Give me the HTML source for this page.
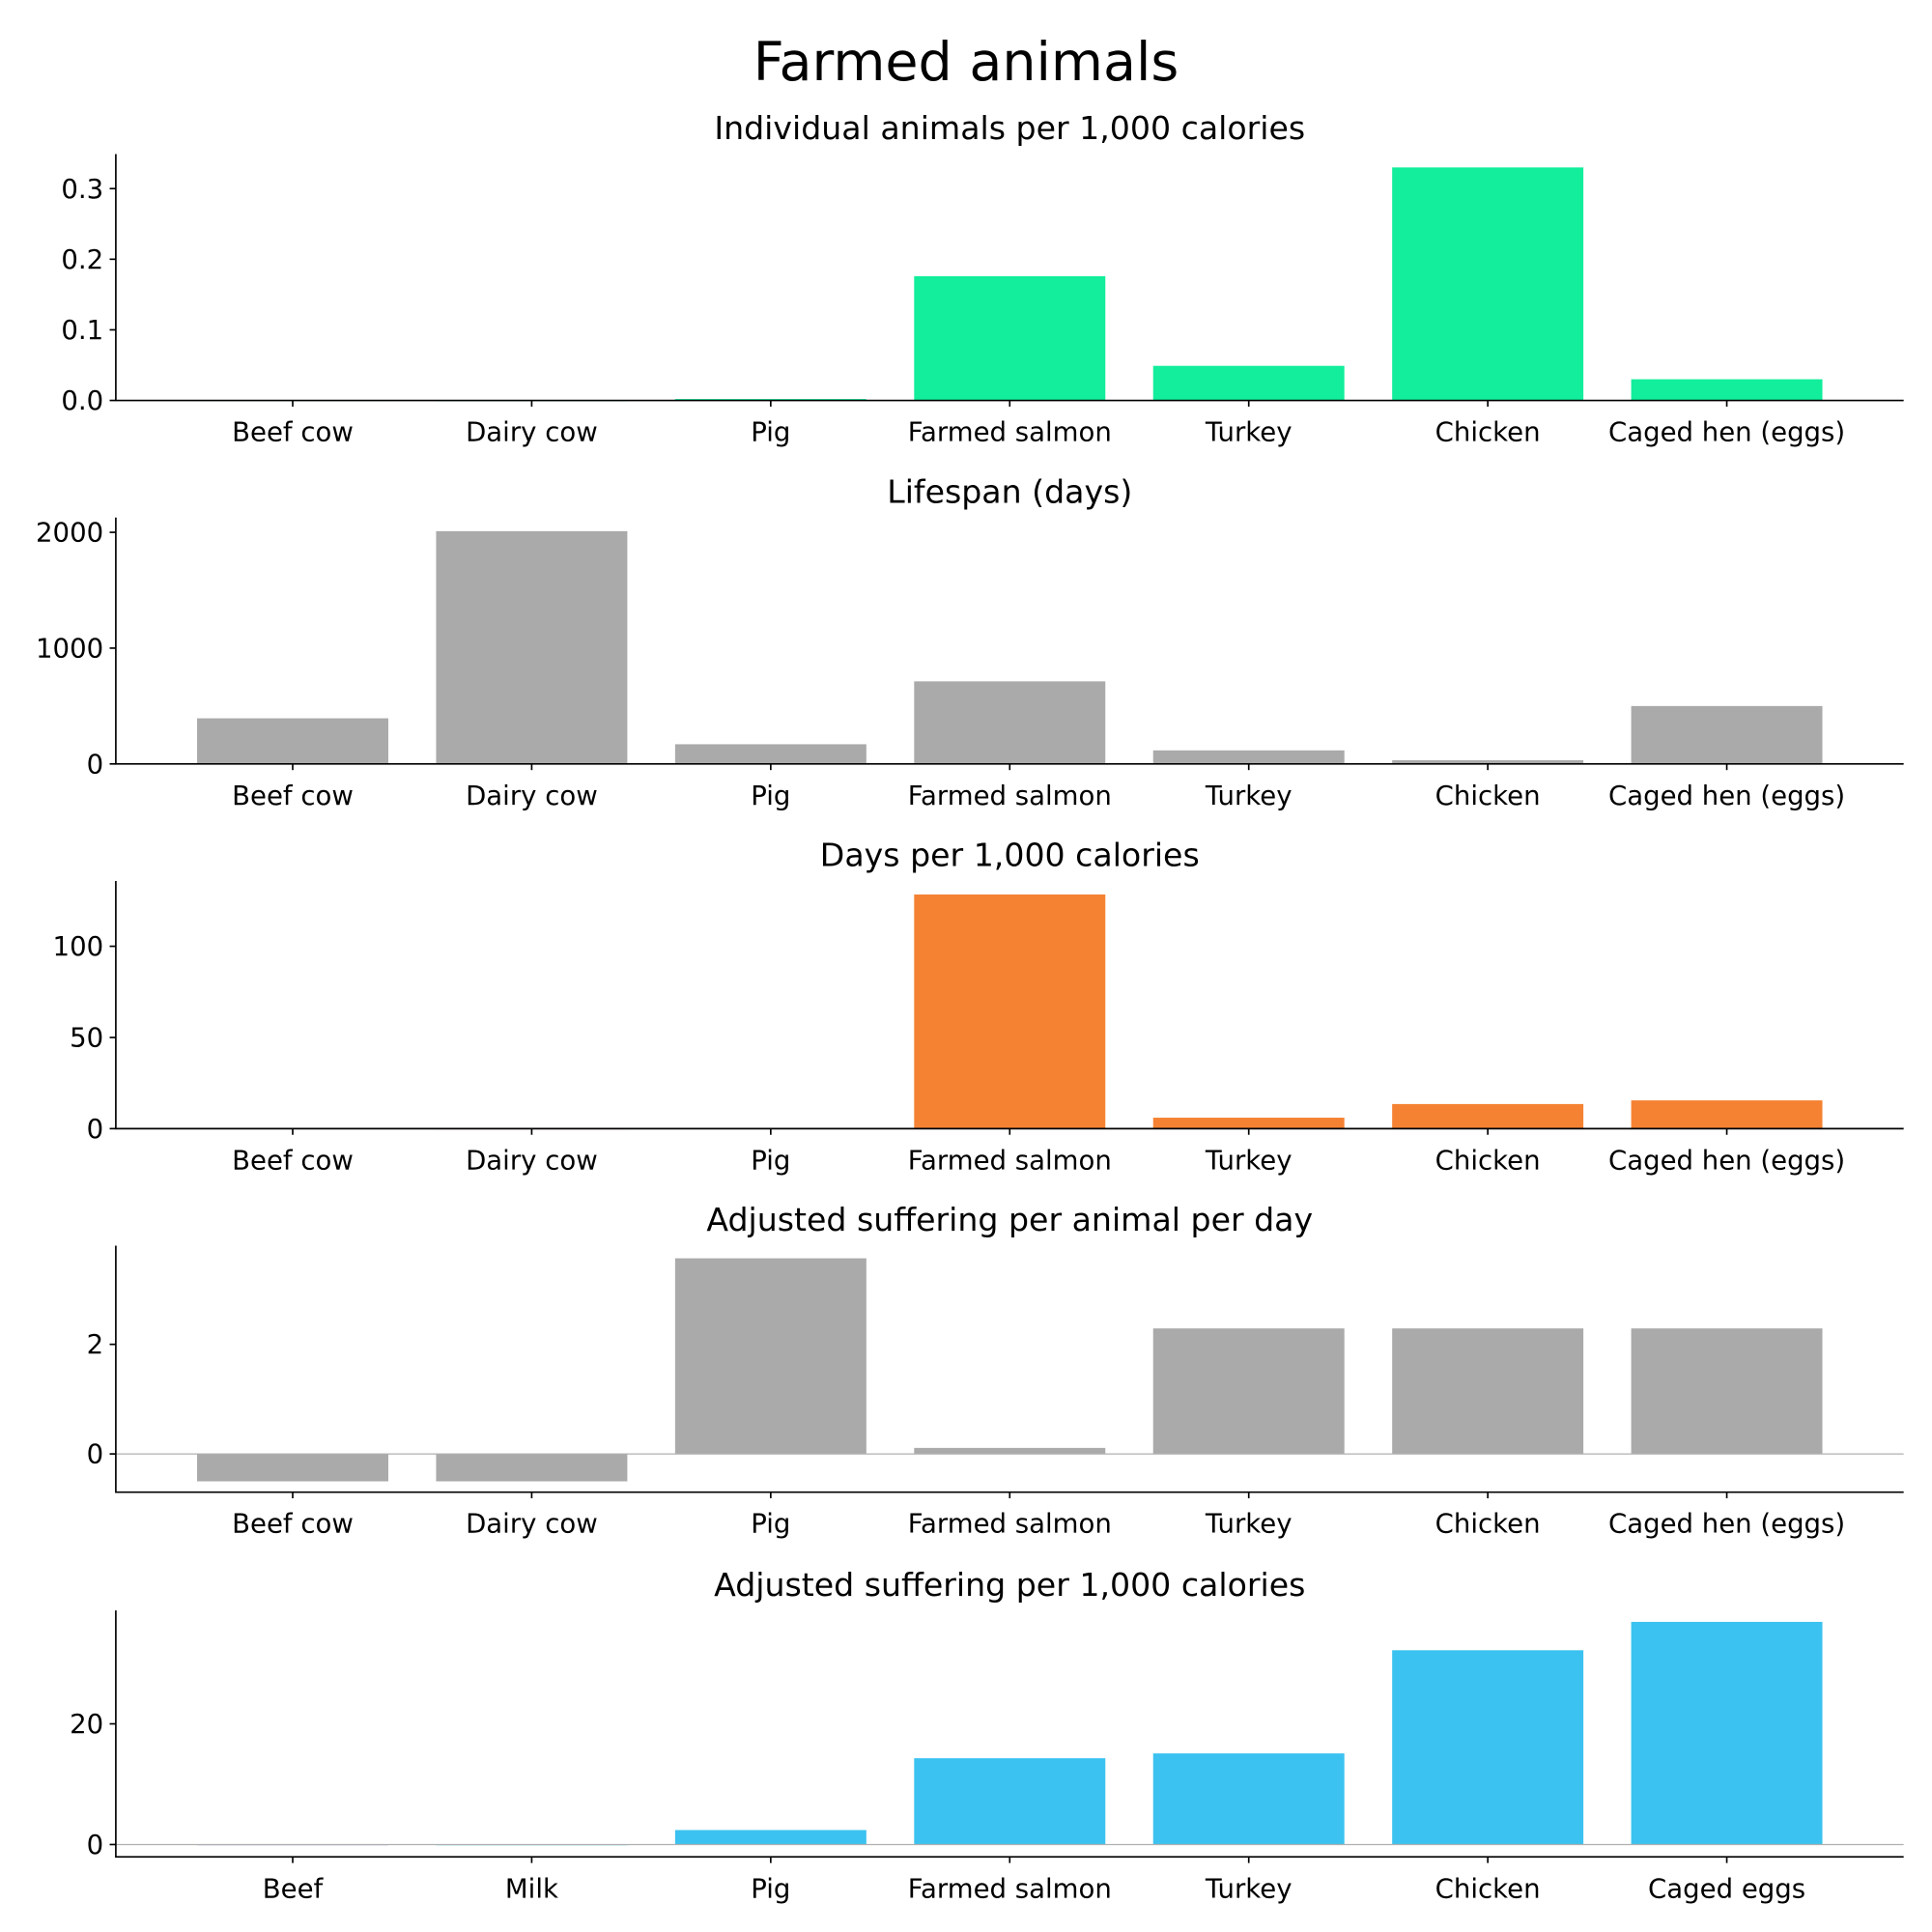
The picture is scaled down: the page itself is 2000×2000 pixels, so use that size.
<!DOCTYPE html>
<html><head><meta charset="utf-8"><style>
html,body{margin:0;padding:0;background:#fff;}
svg{display:block;font-family:"DejaVu Sans","Liberation Sans",sans-serif;}
</style></head><body>
<svg id="chart" width="2000" height="2000" viewBox="0 0 1568 1568" xmlns="http://www.w3.org/2000/svg">
<rect width="1568" height="1568" fill="#fff"/>
<text x="784" y="65" text-anchor="middle" font-size="43.5" fill="#000">Farmed animals</text>
</svg>
<script>
const labelsA = ["Beef cow","Dairy cow","Pig","Farmed salmon","Turkey","Chicken","Caged hen (eggs)"];
const labelsB = ["Beef","Milk","Pig","Farmed salmon","Turkey","Chicken","Caged eggs"];
const animalsPer1000 = [0.0003,0.0001,0.002,0.176,0.049,0.330,0.030];
const lifespanDays = [394,2010,170,713,117,32,500];
const daysPer1000 = [0.1,0.05,0.3,128.4,6,13.5,15.5];
const sufferingPerDay = [-0.5,-0.5,3.57,0.11,2.29,2.29,2.29];
const sufferingPer1000 = [-0.1,0,2.4,14.3,15.1,32.2,36.9];
const ticks1 = [0,0.1,0.2,0.3], tickLabels1 = ["0.0","0.1","0.2","0.3"];
const ticks2 = [0,1000,2000], tickLabels2 = ["0","1000","2000"];
const ticks3 = [0,50,100], tickLabels3 = ["0","50","100"];
const ticks4 = [0,2], tickLabels4 = ["0","2"];
const ticks5 = [0,20], tickLabels5 = ["0","20"];

const NS="http://www.w3.org/2000/svg";
const svg=document.getElementById('chart');
function mk(tag,attrs,parent){const e=document.createElementNS(NS,tag);for(const k in attrs)e.setAttribute(k,attrs[k]);(parent||svg).appendChild(e);return e;}

const L=94,R=1545;
function xScale(i){return L+(i+0.74)*(R-L)/7.48;}
const bw=0.8*(R-L)/7.48;

function panel(key,title,top,bottom,ymin,ymax,vals,cats,color,ticks,tlabels,zeroLine,negColor){
  const g=mk('g',{});
  
  
  const y=v=>bottom-(v-ymin)/(ymax-ymin)*(bottom-top);
  const t=mk('text',{x:(L+R)/2,y:top-12,'text-anchor':'middle','font-size':26,fill:'#000'},g);
  t.textContent=title;
  
  
  vals.forEach((v,i)=>{
    const y0=y(0),y1=y(v);
    const r=mk('rect',{x:xScale(i)-bw/2,y:Math.min(y0,y1),width:bw,height:Math.max(Math.abs(y1-y0),0.6),fill:(v<0&&negColor)?negColor:color},g);
    
    
  });
  if(zeroLine){const z=mk('line',{x1:L,x2:R,y1:y(0),y2:y(0),stroke:'#b0b0b0','stroke-width':1},g);
    }
  const ax=mk('path',{d:`M${L},${top}V${bottom}H${R}`,fill:'none',stroke:'#000','stroke-width':1.3},g);
  
  ticks.forEach((tv,i)=>{
    const yy=y(tv);
    mk('line',{x1:L-5,x2:L,y1:yy,y2:yy,stroke:'#000','stroke-width':1.3},g);
    const tl=mk('text',{x:L-10,y:yy+7.5,'text-anchor':'end','font-size':21.6,fill:'#000'},g);
    tl.textContent=tlabels[i];
    
    
  });
  cats.forEach((c,i)=>{
    const xx=xScale(i);
    mk('line',{x1:xx,x2:xx,y1:bottom,y2:bottom+5,stroke:'#000','stroke-width':1.3},g);
    const tl=mk('text',{x:xx,y:bottom+33,'text-anchor':'middle','font-size':21.6,fill:'#000'},g);
    tl.textContent=c;
    
    
  });
}
panel('animals-per-1000','Individual animals per 1,000 calories',125,325,0,0.349,animalsPer1000,labelsA,'#12EE9B',ticks1,tickLabels1,false);
panel('lifespan','Lifespan (days)',420,620,0,2128,lifespanDays,labelsA,'#AAAAAA',ticks2,tickLabels2,false);
panel('days-per-1000','Days per 1,000 calories',715,916,0,135.8,daysPer1000,labelsA,'#F58233',ticks3,tickLabels3,false);
panel('suffering-per-day','Adjusted suffering per animal per day',1011,1211,-0.697,3.80,sufferingPerDay,labelsA,'#AAAAAA',ticks4,tickLabels4,true);
panel('suffering-per-1000','Adjusted suffering per 1,000 calories',1307,1507,-2.04,38.8,sufferingPer1000,labelsB,'#3BC2F0',ticks5,tickLabels5,true,'#9b8fd6');
</script>
</body></html>
